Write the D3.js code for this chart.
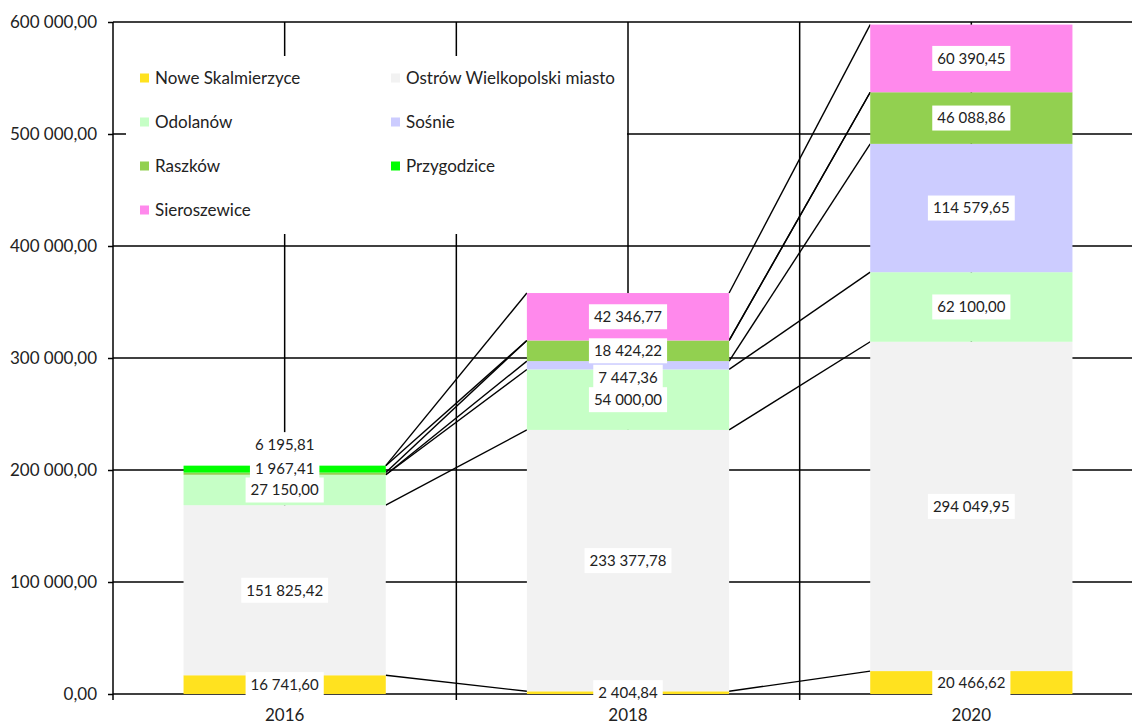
<!DOCTYPE html>
<html>
<head>
<meta charset="utf-8">
<script src="https://cdn.jsdelivr.net/npm/d3@7"></script>
<style>
  html, body { margin: 0; padding: 0; background: #fff; }
  svg { display: block; font-family: Lato, "Open Sans", sans-serif; }
</style>
</head>
<body>
<svg id="chart" width="1132" height="726"></svg>
<script>
// ---- data ----
const categories = ["2016", "2018", "2020"];
const seriesNames = ["Nowe Skalmierzyce", "Ostrów Wielkopolski miasto", "Odolanów", "Sośnie", "Raszków", "Przygodzice", "Sieroszewice"];
const noweSkalmierzyce = [16741.60, 2404.84, 20466.62];
const ostrowMiasto = [151825.42, 233377.78, 294049.95];
const odolanow = [27150.00, 54000.00, 62100.00];
const sosnie = [0, 7447.36, 114579.65];
const raszkow = [1967.41, 18424.22, 46088.86];
const przygodzice = [6195.81, 0, 0];
const sieroszewice = [0, 42346.77, 60390.45];
const yTickValues = [0, 100000, 200000, 300000, 400000, 500000, 600000];
const seriesColors = ["#FFE21F", "#F2F2F2", "#C6FFC6", "#CCCCFF", "#92D050", "#00FF00", "#FF89EC"];

const seriesValues = [noweSkalmierzyce, ostrowMiasto, odolanow, sosnie, raszkow, przygodzice, sieroszewice];
const table = categories.map((c, j) => {
  const row = { cat: c };
  seriesNames.forEach((s, i) => row[s] = seriesValues[i][j]);
  return row;
});

(function () {
// ---- layout ----
const svg = d3.select("#chart");
const pLeft = 113, pRight = 1143, pTop = 22, pBottom = 694;
const x = d3.scaleBand().domain(categories).range([pLeft, pRight]).padding(0);
const y = d3.scaleLinear().domain([0, 600000]).range([pBottom, pTop]);
const barW = x.bandwidth() * 0.589;
const cx = c => x(c) + x.bandwidth() / 2;

const pl = d3.formatLocale({ decimal: ",", thousands: " ", grouping: [3], currency: ["", ""] });
const fmt = pl.format(",.2f");

const stack = d3.stack().keys(seriesNames)(table);

const textColor = "#222";

// background
svg.append("rect").attr("width", 1132).attr("height", 726).attr("fill", "#fff");

// horizontal gridlines
svg.append("g").selectAll("line").data(yTickValues.filter(v => v > 0)).join("line")
  .attr("x1", pLeft).attr("x2", pRight)
  .attr("y1", d => y(d)).attr("y2", d => y(d))
  .attr("stroke", "#000").attr("stroke-width", 1.5);

// vertical gridlines (category centres and boundaries)
const vLines = [];
categories.forEach(c => { vLines.push({ x: x(c), tick: true }); vLines.push({ x: cx(c), tick: false }); });
vLines.push({ x: pRight, tick: true });
svg.append("g").selectAll("line").data(vLines.filter(d => d.x > pLeft)).join("line")
  .attr("x1", d => d.x).attr("x2", d => d.x)
  .attr("y1", pTop).attr("y2", d => d.tick ? pBottom + 6 : pBottom)
  .attr("stroke", "#000").attr("stroke-width", 1.5);

// y axis
const yAxis = svg.append("g").attr("transform", `translate(${pLeft},0)`)
  .call(d3.axisLeft(y).tickValues(yTickValues).tickFormat(fmt).tickSize(5).tickPadding(11));
yAxis.select(".domain").attr("d", `M0,${pTop}V${pBottom + 6}`).attr("stroke", "#000").attr("stroke-width", 1.5);
yAxis.selectAll(".tick line").attr("stroke", "#000").attr("stroke-width", 1.5);
yAxis.selectAll("text").attr("fill", textColor).style("font-size", "17px").style("font-family", "Lato");

// x axis
const xAxis = svg.append("g").attr("transform", `translate(0,${pBottom})`)
  .call(d3.axisBottom(x).tickSize(0).tickPadding(15));
xAxis.select(".domain").attr("d", `M${pLeft},0H${pRight}`).attr("stroke", "#000").attr("stroke-width", 1.5);
xAxis.selectAll("text").attr("fill", textColor).style("font-size", "17px").style("font-family", "Lato");

// series lines
const sLines = [];
stack.forEach(layer => {
  for (let j = 0; j < categories.length - 1; j++) {
    sLines.push({
      x1: cx(categories[j]) + barW / 2, y1: y(layer[j][1]),
      x2: cx(categories[j + 1]) - barW / 2, y2: y(layer[j + 1][1])
    });
  }
});
svg.append("g").selectAll("line").data(sLines).join("line")
  .attr("x1", d => d.x1).attr("y1", d => d.y1).attr("x2", d => d.x2).attr("y2", d => d.y2)
  .attr("stroke", "#000").attr("stroke-width", 1.4);

// bars
svg.append("g").selectAll("g").data(stack).join("g")
  .attr("fill", (d, i) => seriesColors[i])
  .selectAll("rect").data(d => d).join("rect")
  .attr("x", d => cx(d.data.cat) - barW / 2)
  .attr("width", barW)
  .attr("y", d => y(d[1]))
  .attr("height", d => y(d[0]) - y(d[1]));

// data labels (some moved manually in the original to avoid overlap)
const labelShift = { "Przygodzice|2016": -24.5, "Raszków|2016": -5, "Sośnie|2018": 12 };
const labels = [];
stack.forEach(layer => {
  layer.forEach(d => {
    const v = d[1] - d[0];
    if (v > 0) {
      const key = layer.key + "|" + d.data.cat;
      labels.push({ v, x: cx(d.data.cat), y: (y(d[0]) + y(d[1])) / 2 + (labelShift[key] || 0) });
    }
  });
});
const lg = svg.append("g").selectAll("g").data(labels).join("g")
  .attr("transform", d => `translate(${d.x},${d.y})`);
lg.append("rect").attr("fill", "#fff");
lg.append("text").text(d => fmt(d.v))
  .attr("text-anchor", "middle").attr("dy", "0.36em")
  .attr("fill", textColor).style("font-size", "15px");
lg.each(function () {
  const g = d3.select(this);
  const w = g.select("text").node().getComputedTextLength();
  g.select("rect").attr("x", -w / 2 - 5).attr("width", w + 10).attr("y", -12.5).attr("height", 25);
});

// legend
const legend = svg.append("g");
legend.append("rect").attr("x", 126).attr("y", 56).attr("width", 501).attr("height", 178).attr("fill", "#fff");
const li = legend.selectAll("g.item").data(seriesNames).join("g").attr("class", "item")
  .attr("transform", (d, i) => `translate(${i % 2 === 0 ? 140 : 391},${78 + Math.floor(i / 2) * 44})`);
li.append("rect").attr("x", 0).attr("y", -4.5).attr("width", 9).attr("height", 9)
  .attr("fill", (d, i) => seriesColors[i]);
li.append("text").text(d => d).attr("x", 15).attr("dy", "0.36em")
  .attr("fill", textColor).style("font-size", "17px");
})();
</script>
</body>
</html>
